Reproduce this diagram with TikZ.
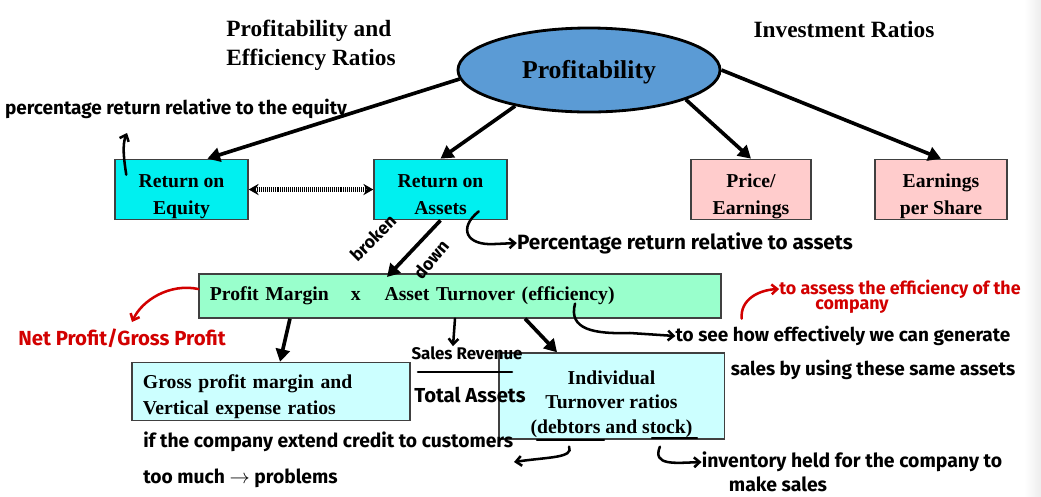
\documentclass[tikz,border=0pt]{standalone}
\usepackage{fontspec}
\setmainfont{Liberation Serif}
\newfontfamily\handfont{Fira Sans}
\usetikzlibrary{arrows.meta,shapes.geometric}
\definecolor{profblue}{RGB}{91,155,213}
\definecolor{roecyan}{RGB}{0,240,240}
\definecolor{invpink}{RGB}{255,204,204}
\definecolor{pmgreen}{RGB}{153,255,204}
\definecolor{paleblue}{RGB}{204,255,255}
\definecolor{penred}{RGB}{210,0,0}
% fixed top and bottom of the box texts
\newcommand{\hitop}[1]{\rule{0pt}{#1}}
\newcommand{\lobot}{\rule[-4pt]{0pt}{0pt}}
\tikzset{
  ratio/.style={draw=black!75,line width=0.9pt,font=\bfseries\fontsize{14}{19}\selectfont,
    align=center,inner sep=0pt,minimum height=1.38cm},
  heading/.style={font=\bfseries\fontsize{16.6}{20.5}\selectfont,align=left},
  link/.style={line width=2.6pt,-{Triangle[length=9pt,width=10pt]}},
  hand/.style={font=\handfont\bfseries\fontsize{#1}{#1}\selectfont,inner sep=0pt},
  hand/.default=13.5,
  pen/.style={line width=1.8pt,line cap=round,-{Straight Barb[length=4pt,width=7pt]}},
}
\begin{document}
\begin{tikzpicture}[x=0.025cm,y=-0.025cm]
  \useasboundingbox (0,0) rectangle (1041,496);
  \shade[left color=white,right color=gray!14] (1024,0) rectangle (1041,496);
  % headings
  \node[heading] (effhead) at (311,45) {Profitability and\\Efficiency Ratios};
  \node[heading] (invhead) at (844,30) {Investment Ratios};
  % the tree
  \node[ellipse,draw,line width=2pt,fill=profblue,minimum width=6.55cm,minimum height=2.1cm,
    font=\bfseries\fontsize{18.3}{20}\selectfont] (prof) at (589,70) {\hitop{16pt}Profitability};
  \node[ratio,fill=roecyan,minimum width=3.33cm] (roe) at (181.5,189.5)
    {\hitop{20pt}Return on\\Equity\lobot};
  \node[ratio,fill=roecyan,minimum width=3.33cm] (roa) at (440.5,189.5)
    {\hitop{20pt}Return on\\Assets\lobot};
  \node[ratio,fill=invpink,minimum width=3cm] (pe) at (751,189.5)
    {\hitop{20pt}Price/\\Earnings\lobot};
  \node[ratio,fill=invpink,minimum width=3.3cm] (eps) at (941,189.5)
    {\hitop{20pt}Earnings\\per Share\lobot};
  \node[ratio,fill=pmgreen,minimum width=13.05cm,minimum height=1.1cm,align=left,
    text width=12.5cm] (pm) at (460,296)
    {Profit Margin\hspace{0.55cm}x\hspace{0.6cm}Asset Turnover (efficiency)};
  \node[ratio,fill=paleblue,minimum width=6.95cm,align=left,text width=6.4cm,
    font=\bfseries\fontsize{14}{18.5}\selectfont] (gp)
    at (271,391.5) {\hitop{18.8pt}Gross profit margin and\\Vertical expense ratios\lobot};
  \node[ratio,fill=paleblue,minimum width=5.63cm,minimum height=1.9cm,
    font=\bfseries\fontsize{14}{17.4}\selectfont] (it) at (611.5,396)
    {\hitop{22.4pt}Individual\\Turnover ratios\\(debtors and stock)\lobot};
  \draw[link] (prof.184) -- (roe.50);
  \draw[link] (prof.206) -- (roa.north);
  \draw[link] (prof.343) -- (pe.north);
  \draw[link] (prof.east) -- (eps.north);
  \draw[line width=3.4pt,dash pattern=on 0.7pt off 0.7pt,
    {Stealth[length=7pt,width=8pt]}-{Stealth[length=7pt,width=8pt]}] (roe.east) -- (roa.west);
  \coordinate (bdtip) at (387,277);
  \draw[link] (roa.south) -- (bdtip);
  \draw[link] ([xshift=-4.25cm]pm.south) -- ([xshift=0.225cm]gp.north);
  \draw[link] ([xshift=1.625cm]pm.south) -- ([xshift=-1.36cm]it.north);
  % handwritten notes
  \node[hand] (eqnote) at (176,109) {percentage return relative to the equity};
  \node[hand=14.7] (assetnote) at (685,243) {Percentage return relative to assets};
  \node[hand=12.5,rotate=45] (broken) at (373,238) {broken};
  \node[hand=12.5,rotate=50] (down) at (431,259) {down};
  \node[hand=14.5,text=penred] (netnote) at (122,338) {Net Profit/Gross Profit};
  \node[hand=12.7,text=penred] (effnoteA) at (900,289) {to assess the efficiency of the};
  \node[hand=12.7,text=penred] (effnoteB) at (852,307) {company};
  \node[hand] (seenoteA) at (843,336) {to see how effectively we can generate};
  \node[hand] (seenoteB) at (873,370) {sales by using these same assets};
  \node[hand=12] (sales) at (467,353) {Sales Revenue};
  \node[hand=14.4] (total) at (470,395) {Total Assets};
  \node[hand,align=left,anchor=north west,font=\handfont\bfseries\fontsize{13.7}{25}\selectfont]
    (creditnote) at (143,432) {if the company extend credit to customers\\too much $\to$ problems};
  \node[hand=13.8] (stocknoteA) at (852,462) {inventory held for the company to};
  \node[hand=13.8] (stocknoteB) at (778,484) {make sales};
  \draw[line width=1.8pt,line cap=round] (418,372) -- (512,372);
  \draw[line width=1.6pt,line cap=round] (537,440) -- (604,440);
  \draw[line width=1.6pt,line cap=round] (652,438) -- (697,438);
  % handwritten arrows
  \coordinate (eqtip) at (127,133);
  \coordinate (nettip) at (132,322);
  \coordinate (debttip) at (514,462);
  \draw[pen] ([xshift=0.3cm,yshift=-0.4cm]roe.north west) .. controls (124,160) and (122,145) .. (eqtip);
  \draw[pen] ([xshift=-0.725cm,yshift=0.225cm]roa.south east) .. controls (458,228) and (466,246) .. (495,244) -- (assetnote.west);
  \draw[pen] ([xshift=-0.125cm]pm.south) -- ([xshift=-0.35cm]sales.north);
  \draw[pen,penred] ([yshift=0.175cm]pm.west) .. controls (170,283) and (142,300) .. (nettip);
  \draw[pen,penred] ([xshift=0.5cm]pm.south east) .. controls (740,300) and (758,290) .. (effnoteA.west);
  \draw[pen] ([xshift=2.875cm,yshift=0.375cm]pm.south) .. controls (568,330) and (595,334) .. (630,333) -- (seenoteA.west);
  \draw[pen] ([xshift=-1.06cm,yshift=-0.175cm]it.south) .. controls (574,458) and (548,457) .. (debttip);
  \draw[pen] ([xshift=1.21cm,yshift=-0.175cm]it.south) .. controls (652,466) and (675,463) .. (stocknoteA.west);
\end{tikzpicture}
\end{document}
